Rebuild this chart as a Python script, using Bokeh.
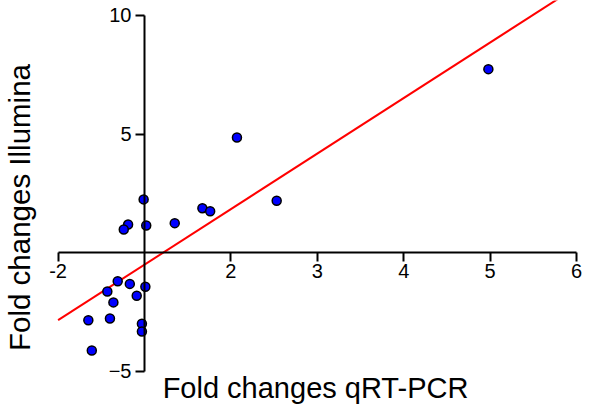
import math
from bokeh.plotting import figure
from bokeh.models import FixedTicker, Label, ColumnDataSource
from bokeh.embed import file_html
from bokeh.resources import INLINE

# Fold changes (qRT-PCR on x, Illumina on y)
qpcr_fc = [-1.01, 1.02, -1.19, -1.24, 1.35, -1.31, -1.17, -1.43, 1.01, -1.09,
           -1.36, -1.65, -1.40, -1.03, -1.03, -1.61, 2.07, 1.67, 1.76, 2.53, 4.98]
illumina_fc = [2.25, 1.15, 1.19, 0.98, 1.25, -1.20, -1.31, -1.63, -1.43, -1.81,
               -2.09, -2.84, -2.77, -2.99, -3.32, -4.12, 4.86, 1.88, 1.75, 2.19, 7.74]
x_tick_fc = [-2, 2, 3, 4, 5, 6]
y_ticks = [-5, 5, 10]
fit_slope = 2.34
fit_intercept = -0.50


def to_pos(f):
    # fold-change axis: +1 and -1 both sit on the origin
    return f - 1 if f > 0 else f + 1


x_pos = [to_pos(f) for f in qpcr_fc]
x_tick_pos = [to_pos(f) for f in x_tick_fc]
fit_x = [x_tick_pos[0], x_tick_pos[-1]]
fit_y = [fit_slope * x + fit_intercept for x in fit_x]

src = ColumnDataSource(data=dict(x=x_pos, y=illumina_fc))

FONT = "Liberation Sans"

p = figure(width=584, height=404, output_backend="svg", toolbar_location=None,
           x_range=(-1.6667, 5.0926), y_range=(-6.393, 10.632),
           min_border_left=0, min_border_right=0,
           min_border_top=0, min_border_bottom=0)
p.grid.visible = False
p.outline_line_color = None
p.background_fill_color = "white"
p.border_fill_color = "white"

for ax in (p.xaxis[0], p.yaxis[0]):
    ax.fixed_location = 0
    ax.axis_line_width = 2
    ax.axis_line_color = "black"
    ax.major_tick_line_width = 2
    ax.major_tick_line_color = "black"
    ax.major_tick_in = 0
    ax.major_tick_out = 9
    ax.minor_tick_line_color = None
    ax.major_label_text_font = FONT
    ax.major_label_text_font_size = "20px"
    ax.major_label_text_color = "black"

p.xaxis[0].ticker = FixedTicker(ticks=x_tick_pos)
p.xaxis[0].major_label_overrides = {pos: str(f) for pos, f in zip(x_tick_pos, x_tick_fc)}
p.xaxis[0].bounds = (min(x_tick_pos), max(x_tick_pos))
p.xaxis[0].major_label_standoff = 2

p.yaxis[0].ticker = FixedTicker(ticks=y_ticks)
p.yaxis[0].bounds = (min(y_ticks), max(y_ticks))
p.yaxis[0].major_label_standoff = 4

p.line(fit_x, fit_y, line_color="#ff0000", line_width=2)

p.scatter("x", "y", source=src, size=9, fill_color="#0000ff",
          line_color="black", line_width=1.5)

p.add_layout(Label(x=315, y=17, x_units="screen", y_units="screen",
                   text="Fold changes qRT-PCR", text_align="center",
                   text_baseline="alphabetic", text_font=FONT,
                   text_font_size="29px", text_color="black"))
p.add_layout(Label(x=19, y=197, x_units="screen", y_units="screen",
                   text="Fold changes Illumina", angle=math.pi / 2,
                   text_align="center", text_baseline="alphabetic",
                   text_font=FONT, text_font_size="29.5px", text_color="black"))

open("out.html", "w").write(file_html(p, INLINE))
